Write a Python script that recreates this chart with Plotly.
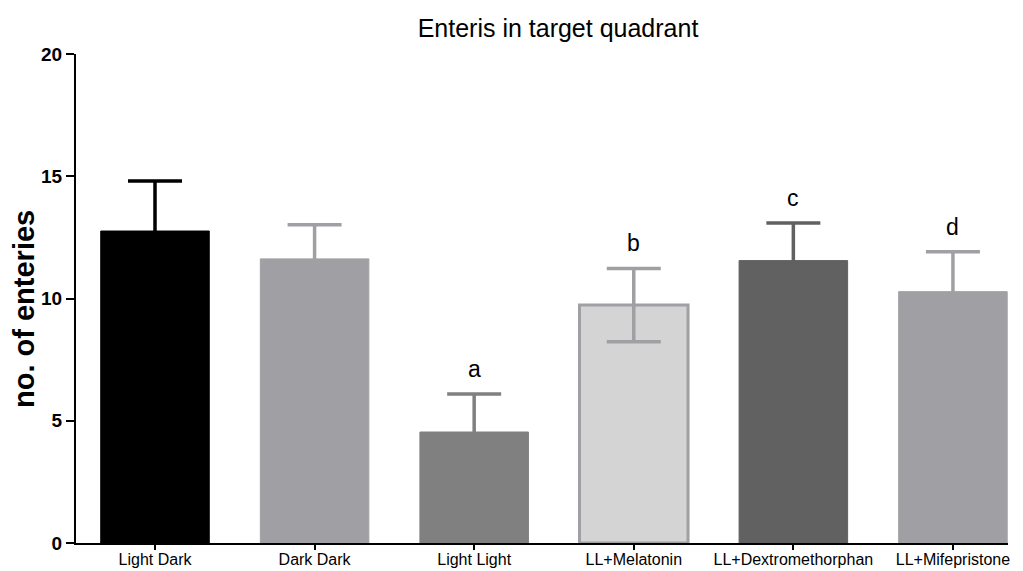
import plotly.graph_objects as go

categories = ["Light Dark", "Dark Dark", "Light Light", "LL+Melatonin", "LL+Dextromethorphan", "LL+Mifepristone"]
means = [12.76, 11.62, 4.54, 9.73, 11.55, 10.28]
errors = [2.05, 1.40, 1.55, 1.50, 1.54, 1.63]
letters = ["", "", "a", "b", "c", "d"]
fill_colors = ["#000000", "#a0a0a4", "#808080", "#d4d4d4", "#616161", "#a0a0a4"]
edge_colors = ["#000000", "#a0a0a4", "#808080", "#a0a0a4", "#616161", "#a0a0a4"]
edge_widths = [1, 1, 1, 3, 1, 1]
y_ticks = [0, 5, 10, 15, 20]

FONT = "Liberation Sans, Arial, Helvetica, sans-serif"

fig = go.Figure()
for i, cat in enumerate(categories):
    fig.add_trace(go.Bar(
        x=[i], y=[means[i]], width=0.68,
        marker=dict(color=fill_colors[i], line=dict(color=edge_colors[i], width=edge_widths[i])),
        error_y=dict(type="data", array=[errors[i]], color=edge_colors[i], thickness=3.5, width=27),
        showlegend=False,
    ))
    if letters[i]:
        fig.add_annotation(x=i, y=means[i] + errors[i], text=letters[i], showarrow=False,
                           yanchor="bottom", yshift=10,
                           font=dict(family=FONT, size=23, color="black"))

# y-axis title
fig.add_annotation(x=(24 - 76) / 932, y=(543 - 309) / 489, xref="paper", yref="paper",
                   text="<b>no. of enteries</b>", textangle=-90, showarrow=False,
                   xanchor="center", yanchor="middle",
                   font=dict(family=FONT, size=29, color="black"))

fig.update_layout(
    width=1023, height=571,
    margin=dict(l=76, r=15, t=54, b=28),
    plot_bgcolor="white", paper_bgcolor="white",
    barmode="overlay",
    title=dict(text="Enteris in target quadrant", x=(558 - 76) / 932, xref="paper", xanchor="center",
               y=1 - 28 / 571, yref="container", yanchor="middle",
               font=dict(family=FONT, size=25, color="black")),
    xaxis=dict(range=[-0.495, 5.345], tickmode="array", tickvals=list(range(len(categories))),
               ticktext=categories, showline=True, linecolor="black", linewidth=2,
               ticks="outside", ticklen=5, tickwidth=2, tickcolor="black", showgrid=False,
               zeroline=False, automargin=False, ticklabelstandoff=-4,
               tickfont=dict(family=FONT, size=16, color="black")),
    yaxis=dict(range=[0, 20], tickvals=y_ticks, showline=True, linecolor="black", linewidth=2,
               ticks="outside", ticklen=8, tickwidth=2, tickcolor="black", showgrid=False,
               zeroline=False, automargin=False,
               tickfont=dict(family=FONT, size=19, color="black", weight="bold")),
)

fig.write_html("out.html")
